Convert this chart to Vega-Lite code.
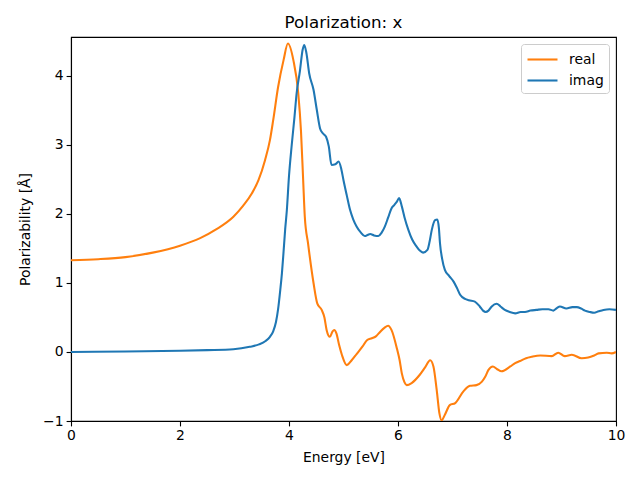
{
  "$schema": "https://vega.github.io/schema/vega-lite/v6.json",
  "width": 545,
  "height": 384,
  "autosize": {"type": "none"},
  "padding": {"left": 71, "top": 37, "right": 24, "bottom": 59},
  "background": "white",
  "title": {"text": "Polarization: x", "fontSize": 16.7, "font": "DejaVu Sans", "fontWeight": "normal", "color": "black", "offset": 5, "anchor": "middle"},
  "config": {
    "view": {"stroke": "black", "strokeWidth": 1.1},
    "font": "DejaVu Sans",
    "axis": {"grid": false, "labelFlush": false, "domainColor": "black", "domainWidth": 1.1, "tickColor": "black", "tickWidth": 1.1, "tickSize": 4.9, "labelFontSize": 13.9, "labelColor": "black", "titleFontSize": 13.9, "titleColor": "black", "titleFontWeight": "normal", "labelFont": "DejaVu Sans", "titleFont": "DejaVu Sans"}
  },
  "datasets": {
    "pol": [
      {"e": 0, "v": 1.33, "s": "real"}, {"e": 0.5, "v": 1.345, "s": "real"}, {"e": 1.0, "v": 1.375, "s": "real"}, {"e": 1.5, "v": 1.44, "s": "real"}, {"e": 2.0, "v": 1.54, "s": "real"}, {"e": 2.37, "v": 1.65, "s": "real"}, {"e": 2.67, "v": 1.78, "s": "real"}, {"e": 2.98, "v": 1.96, "s": "real"}, {"e": 3.16, "v": 2.12, "s": "real"}, {"e": 3.32, "v": 2.3, "s": "real"}, {"e": 3.44, "v": 2.49, "s": "real"}, {"e": 3.56, "v": 2.78, "s": "real"}, {"e": 3.65, "v": 3.07, "s": "real"}, {"e": 3.71, "v": 3.36, "s": "real"}, {"e": 3.8, "v": 3.84, "s": "real"}, {"e": 3.9, "v": 4.23, "s": "real"}, {"e": 3.98, "v": 4.47, "s": "real"}, {"e": 4.08, "v": 4.23, "s": "real"}, {"e": 4.17, "v": 3.75, "s": "real"}, {"e": 4.22, "v": 3.2, "s": "real"}, {"e": 4.26, "v": 2.49, "s": "real"}, {"e": 4.29, "v": 1.96, "s": "real"}, {"e": 4.35, "v": 1.57, "s": "real"}, {"e": 4.45, "v": 1.0, "s": "real"}, {"e": 4.52, "v": 0.7, "s": "real"}, {"e": 4.6, "v": 0.61, "s": "real"}, {"e": 4.65, "v": 0.5, "s": "real"}, {"e": 4.69, "v": 0.32, "s": "real"}, {"e": 4.75, "v": 0.22, "s": "real"}, {"e": 4.8, "v": 0.3, "s": "real"}, {"e": 4.83, "v": 0.32, "s": "real"}, {"e": 4.87, "v": 0.27, "s": "real"}, {"e": 4.92, "v": 0.1, "s": "real"}, {"e": 4.97, "v": -0.04, "s": "real"}, {"e": 5.06, "v": -0.19, "s": "real"}, {"e": 5.15, "v": -0.12, "s": "real"}, {"e": 5.24, "v": -0.03, "s": "real"}, {"e": 5.35, "v": 0.08, "s": "real"}, {"e": 5.43, "v": 0.17, "s": "real"}, {"e": 5.52, "v": 0.2, "s": "real"}, {"e": 5.6, "v": 0.23, "s": "real"}, {"e": 5.67, "v": 0.29, "s": "real"}, {"e": 5.75, "v": 0.35, "s": "real"}, {"e": 5.82, "v": 0.38, "s": "real"}, {"e": 5.88, "v": 0.32, "s": "real"}, {"e": 5.98, "v": 0.05, "s": "real"}, {"e": 6.03, "v": -0.12, "s": "real"}, {"e": 6.07, "v": -0.31, "s": "real"}, {"e": 6.12, "v": -0.44, "s": "real"}, {"e": 6.16, "v": -0.48, "s": "real"}, {"e": 6.25, "v": -0.45, "s": "real"}, {"e": 6.4, "v": -0.33, "s": "real"}, {"e": 6.5, "v": -0.22, "s": "real"}, {"e": 6.59, "v": -0.12, "s": "real"}, {"e": 6.65, "v": -0.21, "s": "real"}, {"e": 6.71, "v": -0.55, "s": "real"}, {"e": 6.76, "v": -0.89, "s": "real"}, {"e": 6.8, "v": -0.99, "s": "real"}, {"e": 6.86, "v": -0.91, "s": "real"}, {"e": 6.95, "v": -0.77, "s": "real"}, {"e": 7.05, "v": -0.74, "s": "real"}, {"e": 7.2, "v": -0.57, "s": "real"}, {"e": 7.32, "v": -0.49, "s": "real"}, {"e": 7.44, "v": -0.48, "s": "real"}, {"e": 7.54, "v": -0.43, "s": "real"}, {"e": 7.6, "v": -0.36, "s": "real"}, {"e": 7.66, "v": -0.26, "s": "real"}, {"e": 7.74, "v": -0.21, "s": "real"}, {"e": 7.82, "v": -0.25, "s": "real"}, {"e": 7.9, "v": -0.28, "s": "real"}, {"e": 8.06, "v": -0.21, "s": "real"}, {"e": 8.15, "v": -0.16, "s": "real"}, {"e": 8.24, "v": -0.13, "s": "real"}, {"e": 8.35, "v": -0.09, "s": "real"}, {"e": 8.45, "v": -0.07, "s": "real"}, {"e": 8.61, "v": -0.05, "s": "real"}, {"e": 8.82, "v": -0.06, "s": "real"}, {"e": 8.94, "v": -0.01, "s": "real"}, {"e": 9.06, "v": -0.06, "s": "real"}, {"e": 9.19, "v": -0.04, "s": "real"}, {"e": 9.37, "v": -0.09, "s": "real"}, {"e": 9.49, "v": -0.08, "s": "real"}, {"e": 9.6, "v": -0.05, "s": "real"}, {"e": 9.68, "v": -0.02, "s": "real"}, {"e": 9.83, "v": -0.01, "s": "real"}, {"e": 9.92, "v": -0.02, "s": "real"}, {"e": 10, "v": 0.0, "s": "real"},
      {"e": 0, "v": 0.0, "s": "imag"}, {"e": 1, "v": 0.008, "s": "imag"}, {"e": 2, "v": 0.018, "s": "imag"}, {"e": 2.5, "v": 0.027, "s": "imag"}, {"e": 2.98, "v": 0.04, "s": "imag"}, {"e": 3.28, "v": 0.075, "s": "imag"}, {"e": 3.45, "v": 0.11, "s": "imag"}, {"e": 3.57, "v": 0.16, "s": "imag"}, {"e": 3.65, "v": 0.22, "s": "imag"}, {"e": 3.71, "v": 0.3, "s": "imag"}, {"e": 3.76, "v": 0.43, "s": "imag"}, {"e": 3.8, "v": 0.62, "s": "imag"}, {"e": 3.84, "v": 0.9, "s": "imag"}, {"e": 3.87, "v": 1.14, "s": "imag"}, {"e": 3.9, "v": 1.45, "s": "imag"}, {"e": 3.93, "v": 1.78, "s": "imag"}, {"e": 3.96, "v": 2.05, "s": "imag"}, {"e": 4.0, "v": 2.55, "s": "imag"}, {"e": 4.05, "v": 3.0, "s": "imag"}, {"e": 4.1, "v": 3.4, "s": "imag"}, {"e": 4.14, "v": 3.75, "s": "imag"}, {"e": 4.2, "v": 4.07, "s": "imag"}, {"e": 4.25, "v": 4.38, "s": "imag"}, {"e": 4.28, "v": 4.45, "s": "imag"}, {"e": 4.32, "v": 4.33, "s": "imag"}, {"e": 4.37, "v": 4.04, "s": "imag"}, {"e": 4.45, "v": 3.8, "s": "imag"}, {"e": 4.51, "v": 3.51, "s": "imag"}, {"e": 4.57, "v": 3.24, "s": "imag"}, {"e": 4.62, "v": 3.17, "s": "imag"}, {"e": 4.68, "v": 3.12, "s": "imag"}, {"e": 4.73, "v": 2.98, "s": "imag"}, {"e": 4.78, "v": 2.71, "s": "imag"}, {"e": 4.85, "v": 2.72, "s": "imag"}, {"e": 4.91, "v": 2.76, "s": "imag"}, {"e": 4.96, "v": 2.65, "s": "imag"}, {"e": 5.0, "v": 2.49, "s": "imag"}, {"e": 5.06, "v": 2.27, "s": "imag"}, {"e": 5.12, "v": 2.06, "s": "imag"}, {"e": 5.18, "v": 1.92, "s": "imag"}, {"e": 5.24, "v": 1.82, "s": "imag"}, {"e": 5.32, "v": 1.73, "s": "imag"}, {"e": 5.39, "v": 1.68, "s": "imag"}, {"e": 5.45, "v": 1.7, "s": "imag"}, {"e": 5.49, "v": 1.71, "s": "imag"}, {"e": 5.56, "v": 1.69, "s": "imag"}, {"e": 5.64, "v": 1.68, "s": "imag"}, {"e": 5.7, "v": 1.73, "s": "imag"}, {"e": 5.76, "v": 1.82, "s": "imag"}, {"e": 5.82, "v": 1.95, "s": "imag"}, {"e": 5.88, "v": 2.08, "s": "imag"}, {"e": 5.93, "v": 2.13, "s": "imag"}, {"e": 5.98, "v": 2.18, "s": "imag"}, {"e": 6.02, "v": 2.23, "s": "imag"}, {"e": 6.07, "v": 2.11, "s": "imag"}, {"e": 6.12, "v": 1.95, "s": "imag"}, {"e": 6.19, "v": 1.77, "s": "imag"}, {"e": 6.26, "v": 1.63, "s": "imag"}, {"e": 6.34, "v": 1.53, "s": "imag"}, {"e": 6.4, "v": 1.47, "s": "imag"}, {"e": 6.46, "v": 1.44, "s": "imag"}, {"e": 6.54, "v": 1.48, "s": "imag"}, {"e": 6.58, "v": 1.6, "s": "imag"}, {"e": 6.62, "v": 1.77, "s": "imag"}, {"e": 6.68, "v": 1.91, "s": "imag"}, {"e": 6.72, "v": 1.92, "s": "imag"}, {"e": 6.75, "v": 1.8, "s": "imag"}, {"e": 6.77, "v": 1.58, "s": "imag"}, {"e": 6.81, "v": 1.35, "s": "imag"}, {"e": 6.86, "v": 1.19, "s": "imag"}, {"e": 6.94, "v": 1.1, "s": "imag"}, {"e": 7.02, "v": 1.02, "s": "imag"}, {"e": 7.08, "v": 0.93, "s": "imag"}, {"e": 7.14, "v": 0.83, "s": "imag"}, {"e": 7.23, "v": 0.77, "s": "imag"}, {"e": 7.3, "v": 0.75, "s": "imag"}, {"e": 7.41, "v": 0.73, "s": "imag"}, {"e": 7.5, "v": 0.66, "s": "imag"}, {"e": 7.56, "v": 0.6, "s": "imag"}, {"e": 7.61, "v": 0.58, "s": "imag"}, {"e": 7.66, "v": 0.6, "s": "imag"}, {"e": 7.72, "v": 0.66, "s": "imag"}, {"e": 7.81, "v": 0.7, "s": "imag"}, {"e": 7.88, "v": 0.66, "s": "imag"}, {"e": 7.96, "v": 0.61, "s": "imag"}, {"e": 8.05, "v": 0.58, "s": "imag"}, {"e": 8.15, "v": 0.56, "s": "imag"}, {"e": 8.25, "v": 0.58, "s": "imag"}, {"e": 8.33, "v": 0.58, "s": "imag"}, {"e": 8.43, "v": 0.6, "s": "imag"}, {"e": 8.54, "v": 0.61, "s": "imag"}, {"e": 8.65, "v": 0.62, "s": "imag"}, {"e": 8.76, "v": 0.62, "s": "imag"}, {"e": 8.85, "v": 0.6, "s": "imag"}, {"e": 8.92, "v": 0.64, "s": "imag"}, {"e": 8.97, "v": 0.66, "s": "imag"}, {"e": 9.09, "v": 0.63, "s": "imag"}, {"e": 9.2, "v": 0.65, "s": "imag"}, {"e": 9.28, "v": 0.65, "s": "imag"}, {"e": 9.36, "v": 0.63, "s": "imag"}, {"e": 9.43, "v": 0.6, "s": "imag"}, {"e": 9.52, "v": 0.58, "s": "imag"}, {"e": 9.6, "v": 0.57, "s": "imag"}, {"e": 9.68, "v": 0.59, "s": "imag"}, {"e": 9.77, "v": 0.61, "s": "imag"}, {"e": 9.88, "v": 0.62, "s": "imag"}, {"e": 10, "v": 0.61, "s": "imag"}
    ]
  },
  "data": {"name": "pol"},
  "mark": {"type": "line", "strokeWidth": 2.08, "interpolate": "monotone", "clip": true},
  "encoding": {
    "x": {"field": "e", "type": "quantitative", "scale": {"domain": [0, 10], "nice": false, "zero": false}, "axis": {"title": "Energy [eV]", "values": [0, 2, 4, 6, 8, 10], "titlePadding": 8, "labelPadding": 3}},
    "y": {"field": "v", "type": "quantitative", "scale": {"domain": [-1, 4.565], "nice": false, "zero": false}, "axis": {"title": "Polarizability [Å]", "values": [-1, 0, 1, 2, 3, 4], "labelExpr": "replace(datum.label, '-', '−')", "titlePadding": 10, "labelPadding": 3}},
    "color": {"field": "s", "type": "nominal", "sort": ["real", "imag"], "scale": {"domain": ["real", "imag"], "range": ["#ff7f0e", "#1f77b4"]},
      "legend": {"title": null, "orient": "top-right", "offset": 7, "symbolType": "M-1,0H2.333", "symbolSize": 324, "symbolStrokeWidth": 2.08, "symbolFillColor": "transparent", "labelFontSize": 13.9, "labelFont": "DejaVu Sans", "labelColor": "black", "strokeColor": "#cccccc", "fillColor": "rgba(255,255,255,0.8)", "cornerRadius": 3, "padding": 5, "rowPadding": 3, "labelOffset": 22}},
    "order": {"field": "e"}
  }
}
